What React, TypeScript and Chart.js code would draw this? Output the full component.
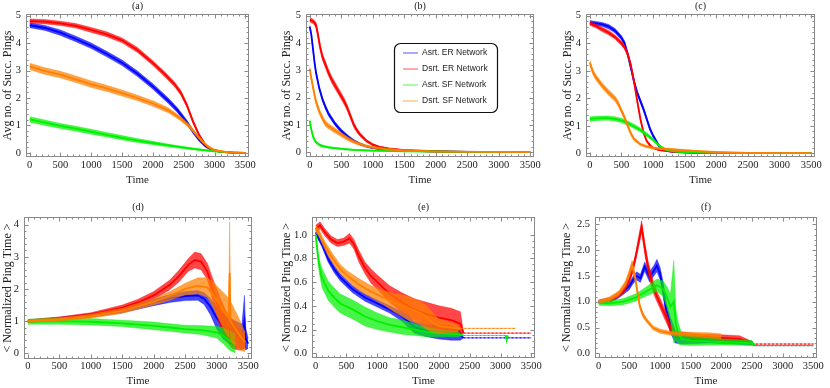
import React, { useEffect, useRef } from "react";
import { Chart, registerables } from "chart.js";
Chart.register(...registerables);

type Pt = [number, number, number]; // [time, mean value, half-width of the noise band]

const SERIES_LABELS = ["Asrt. ER Network", "Dsrt. ER Network", "Asrt. SF Network", "Dsrt. SF Network"];
const SERIES_RGB = ["0,0,255", "255,0,0", "0,240,0", "255,128,0"];

const X_TICKS = [0, 500, 1000, 1500, 2000, 2500, 3000, 3500];
const Y_TICKS_PINGS = [0, 1, 2, 3, 4, 5];
const Y_TICKS_D = [0, 1, 2, 3, 4];
const Y_TICKS_E = [0, 0.2, 0.4, 0.6, 0.8, 1.0];
const Y_TICKS_F = [0, 0.5, 1.0, 1.5, 2.0, 2.5];

// ---------- (a) ----------
const A_BLUE: Pt[] = [[0,4.65,0.09],[250,4.55,0.09],[500,4.38,0.1],[750,4.15,0.1],[1000,3.9,0.1],[1250,3.6,0.1],[1500,3.28,0.1],[1750,2.88,0.1],[2000,2.42,0.1],[2250,1.9,0.1],[2400,1.55,0.09],[2550,1.12,0.08],[2650,0.78,0.07],[2750,0.48,0.06],[2850,0.25,0.04],[2950,0.12,0.03],[3100,0.04,0.02],[3300,0.01,0.01],[3500,0,0.01]];
const A_RED: Pt[] = [[0,4.8,0.08],[250,4.78,0.08],[500,4.72,0.08],[750,4.63,0.08],[1000,4.48,0.09],[1250,4.32,0.09],[1500,4.1,0.09],[1750,3.75,0.09],[2000,3.27,0.09],[2200,2.85,0.09],[2350,2.5,0.09],[2450,2.2,0.09],[2550,1.75,0.08],[2650,1.15,0.07],[2750,0.65,0.06],[2850,0.3,0.04],[2950,0.13,0.03],[3100,0.04,0.02],[3300,0.01,0.01],[3500,0,0.01]];
const A_GREEN: Pt[] = [[0,1.22,0.1],[250,1.1,0.1],[500,0.98,0.09],[750,0.88,0.09],[1000,0.77,0.09],[1250,0.66,0.08],[1500,0.55,0.08],[1750,0.45,0.07],[2000,0.36,0.06],[2250,0.27,0.05],[2500,0.19,0.04],[2750,0.12,0.03],[3000,0.06,0.02],[3250,0.02,0.01],[3500,0,0.01]];
const A_ORANGE: Pt[] = [[0,3.15,0.12],[250,2.98,0.12],[500,2.85,0.12],[750,2.68,0.12],[1000,2.5,0.12],[1250,2.35,0.11],[1500,2.18,0.11],[1750,2.0,0.1],[2000,1.8,0.1],[2250,1.55,0.09],[2450,1.25,0.08],[2600,0.95,0.07],[2700,0.68,0.06],[2800,0.42,0.05],[2900,0.22,0.04],[3000,0.1,0.03],[3200,0.03,0.02],[3500,0,0.01]];

// ---------- (b) ----------
const B_BLUE: Pt[] = [[0,4.6,0.05],[25,4.3,0.06],[50,3.8,0.07],[75,3.3,0.07],[100,2.9,0.07],[150,2.35,0.07],[200,1.95,0.08],[250,1.65,0.08],[300,1.4,0.08],[400,1.05,0.07],[500,0.78,0.07],[600,0.58,0.06],[700,0.42,0.05],[800,0.3,0.04],[900,0.22,0.03],[1000,0.16,0.03],[1200,0.1,0.02],[1500,0.06,0.02],[2000,0.03,0.01],[3500,0.01,0.01]];
const B_RED: Pt[] = [[0,4.85,0.08],[60,4.78,0.08],[100,4.65,0.1],[130,4.3,0.12],[160,3.9,0.12],[200,3.5,0.12],[250,3.2,0.12],[300,2.9,0.12],[350,2.65,0.12],[400,2.45,0.12],[450,2.25,0.12],[500,2.05,0.12],[550,1.85,0.12],[600,1.6,0.11],[650,1.3,0.1],[700,1.0,0.09],[750,0.8,0.08],[800,0.65,0.07],[900,0.42,0.05],[1000,0.28,0.04],[1100,0.2,0.03],[1250,0.14,0.03],[1500,0.08,0.02],[2000,0.04,0.01],[2500,0.02,0.01],[3500,0.01,0.01]];
const B_GREEN: Pt[] = [[0,1.15,0.05],[15,0.95,0.06],[30,0.78,0.06],[50,0.6,0.06],[75,0.45,0.05],[100,0.37,0.05],[150,0.28,0.04],[200,0.23,0.04],[300,0.18,0.03],[500,0.13,0.03],[700,0.09,0.02],[1000,0.06,0.02],[1500,0.04,0.01],[2500,0.02,0.01],[3500,0.01,0.01]];
const B_ORANGE: Pt[] = [[0,3.05,0.08],[25,2.7,0.1],[50,2.4,0.1],[75,2.1,0.1],[100,1.85,0.1],[150,1.5,0.1],[200,1.25,0.1],[250,1.05,0.1],[300,0.95,0.1],[400,0.8,0.09],[500,0.65,0.08],[600,0.5,0.07],[700,0.38,0.06],[800,0.3,0.05],[900,0.23,0.04],[1000,0.18,0.04],[1200,0.12,0.03],[1500,0.07,0.02],[2000,0.03,0.01],[3500,0.01,0.01]];

// ---------- (c) ----------
const C_BLUE: Pt[] = [[0,4.75,0.07],[100,4.72,0.07],[200,4.68,0.07],[300,4.6,0.08],[400,4.45,0.08],[500,4.2,0.08],[550,4.0,0.08],[600,3.6,0.08],[650,3.1,0.08],[700,2.6,0.08],[750,2.2,0.08],[800,1.9,0.08],[850,1.6,0.08],[900,1.25,0.08],[950,0.9,0.07],[1000,0.65,0.06],[1050,0.45,0.05],[1100,0.25,0.04],[1200,0.1,0.03],[1350,0.05,0.02],[1600,0.03,0.01],[2000,0.02,0.01],[3500,0.01,0.01]];
const C_RED: Pt[] = [[0,4.72,0.07],[100,4.62,0.07],[200,4.5,0.08],[300,4.38,0.08],[400,4.22,0.08],[500,4.0,0.08],[550,3.85,0.08],[600,3.6,0.08],[650,3.2,0.08],[700,2.6,0.07],[750,1.9,0.06],[800,1.25,0.06],[850,0.75,0.05],[900,0.45,0.04],[950,0.3,0.04],[1000,0.2,0.03],[1100,0.12,0.02],[1300,0.07,0.02],[1600,0.03,0.01],[2000,0.02,0.01],[3500,0.01,0.01]];
const C_GREEN: Pt[] = [[0,1.25,0.08],[100,1.27,0.08],[200,1.28,0.08],[300,1.28,0.08],[400,1.25,0.08],[500,1.2,0.08],[600,1.1,0.08],[700,0.98,0.08],[800,0.85,0.07],[900,0.68,0.07],[1000,0.5,0.06],[1050,0.38,0.05],[1100,0.28,0.04],[1200,0.13,0.03],[1350,0.07,0.02],[1600,0.04,0.02],[2000,0.02,0.01],[3500,0.01,0.01]];
const C_ORANGE: Pt[] = [[0,3.3,0.1],[50,2.95,0.1],[100,2.75,0.1],[200,2.45,0.1],[300,2.2,0.1],[400,1.98,0.1],[450,1.8,0.1],[500,1.55,0.09],[550,1.3,0.09],[600,1.0,0.08],[650,0.72,0.07],[700,0.52,0.06],[800,0.33,0.05],[900,0.25,0.04],[1000,0.2,0.04],[1200,0.16,0.04],[1500,0.11,0.03],[1800,0.07,0.02],[2000,0.05,0.02],[2500,0.02,0.01],[3500,0.01,0.01]];

// ---------- (d) ----------
const D_BLUE: Pt[] = [[0,1.0,0.04],[500,1.07,0.05],[1000,1.18,0.06],[1500,1.33,0.07],[1750,1.45,0.08],[2000,1.58,0.1],[2250,1.7,0.12],[2500,1.78,0.14],[2700,1.8,0.15],[2800,1.7,0.18],[2900,1.45,0.25],[3000,1.1,0.35],[3100,0.85,0.4],[3200,0.7,0.4],[3300,0.6,0.4],[3400,0.5,0.4],[3440,1.0,0.8],[3460,0.45,0.35],[3500,0.3,0.15]];
const D_RED: Pt[] = [[0,1.0,0.04],[500,1.08,0.05],[1000,1.2,0.06],[1500,1.42,0.08],[1750,1.58,0.1],[2000,1.8,0.12],[2250,2.12,0.15],[2400,2.4,0.18],[2550,2.75,0.2],[2650,2.9,0.25],[2750,2.85,0.25],[2850,2.55,0.25],[2950,1.9,0.35],[3050,1.3,0.45],[3150,0.85,0.45],[3250,0.6,0.45],[3350,0.45,0.35],[3450,0.35,0.2]];
const D_GREEN: Pt[] = [[0,0.98,0.08],[500,1.0,0.1],[1000,0.98,0.1],[1500,0.93,0.1],[2000,0.85,0.12],[2250,0.8,0.12],[2500,0.75,0.12],[2750,0.72,0.14],[3000,0.65,0.18],[3100,0.55,0.25],[3200,0.4,0.3],[3300,0.3,0.3]];
const D_ORANGE: Pt[] = [[0,1.0,0.04],[500,1.05,0.05],[1000,1.15,0.06],[1500,1.32,0.08],[2000,1.6,0.1],[2250,1.78,0.13],[2500,2.0,0.18],[2700,2.1,0.25],[2850,2.05,0.3],[2950,1.8,0.4],[3050,1.5,0.5],[3150,1.2,0.6],[3190,1.1,0.6],[3205,2.5,1.6],[3220,1.0,0.6],[3250,0.9,0.6],[3350,0.6,0.5],[3450,0.35,0.3]];

// ---------- (e) ----------
const E_BLUE: Pt[] = [[0,1.02,0.02],[50,0.97,0.02],[100,0.92,0.02],[200,0.8,0.03],[300,0.71,0.03],[400,0.64,0.03],[500,0.59,0.03],[600,0.54,0.03],[800,0.47,0.03],[1000,0.42,0.03],[1200,0.37,0.03],[1400,0.31,0.04],[1500,0.27,0.05],[1600,0.22,0.05],[1800,0.19,0.05],[2000,0.18,0.06],[2200,0.17,0.06],[2350,0.15,0.04],[2400,0.13,0],[3500,0.13,0]];
const E_RED: Pt[] = [[0,1.05,0.03],[70,1.08,0.03],[150,1.02,0.03],[250,0.96,0.03],[350,0.93,0.03],[450,0.94,0.03],[550,0.97,0.04],[620,0.92,0.04],[700,0.82,0.05],[800,0.72,0.05],[900,0.65,0.06],[1000,0.6,0.06],[1200,0.5,0.07],[1400,0.43,0.08],[1600,0.37,0.09],[1800,0.33,0.1],[2000,0.3,0.1],[2200,0.28,0.1],[2350,0.25,0.1],[2400,0.17,0],[3500,0.17,0]];
const E_GREEN: Pt[] = [[0,1.0,0.02],[30,0.85,0.04],[60,0.73,0.06],[100,0.64,0.08],[200,0.53,0.08],[300,0.47,0.08],[400,0.42,0.08],[600,0.37,0.08],[800,0.31,0.08],[1000,0.27,0.07],[1200,0.24,0.06],[1400,0.22,0.06],[1600,0.2,0.05],[1800,0.18,0.04],[2000,0.17,0.03],[2300,0.16,0.02],[2400,0.15,0],[3080,0.15,0],[3100,0.115,0.035],[3120,0.15,0]];
const E_ORANGE: Pt[] = [[0,1.05,0.03],[50,1.02,0.03],[100,0.96,0.03],[200,0.86,0.04],[300,0.78,0.04],[400,0.71,0.04],[500,0.66,0.04],[700,0.58,0.05],[900,0.52,0.05],[1100,0.47,0.06],[1300,0.42,0.08],[1500,0.38,0.1],[1700,0.34,0.1],[1800,0.3,0.1],[1900,0.26,0.08],[2000,0.23,0.06],[2300,0.21,0.03],[2350,0.21,0],[3250,0.21,0]];

// ---------- (f) ----------
const F_BLUE: Pt[] = [[0,1.0,0.03],[200,1.04,0.04],[300,1.1,0.05],[400,1.2,0.06],[500,1.3,0.07],[560,1.42,0.07],[620,1.5,0.08],[680,1.45,0.08],[750,1.68,0.09],[830,1.48,0.1],[900,1.6,0.1],[950,1.7,0.12],[1000,1.55,0.12],[1050,1.25,0.14],[1100,0.85,0.15],[1170,0.55,0.15],[1250,0.32,0.12],[1350,0.28,0.1],[1800,0.26,0.06],[2200,0.23,0.05],[2500,0.2,0.04],[2550,0.15,0],[3500,0.15,0]];
const F_RED: Pt[] = [[0,1.0,0.03],[200,1.04,0.04],[400,1.2,0.05],[500,1.42,0.06],[550,1.6,0.07],[600,1.85,0.08],[650,2.15,0.1],[700,2.45,0.12],[750,2.05,0.12],[800,1.7,0.12],[850,1.45,0.12],[900,1.25,0.11],[950,1.1,0.1],[1000,0.97,0.1],[1100,0.7,0.1],[1170,0.5,0.08],[1250,0.37,0.06],[1600,0.33,0.05],[2000,0.3,0.06],[2300,0.28,0.06],[2450,0.22,0.04],[2500,0.18,0],[3500,0.18,0]];
const F_GREEN: Pt[] = [[0,0.97,0.04],[200,0.97,0.05],[400,1.0,0.06],[600,1.08,0.07],[720,1.16,0.08],[850,1.25,0.1],[950,1.32,0.12],[1050,1.25,0.15],[1110,1.1,0.2],[1170,0.9,0.25],[1225,1.0,0.8],[1260,0.55,0.3],[1300,0.38,0.2],[1350,0.28,0.12],[1500,0.25,0.1],[2000,0.22,0.06],[2500,0.2,0.05],[2550,0.15,0],[3500,0.15,0]];
const F_ORANGE: Pt[] = [[0,1.0,0.03],[170,1.05,0.04],[330,1.16,0.05],[440,1.35,0.06],[500,1.55,0.07],[545,1.72,0.08],[590,1.5,0.07],[630,1.2,0.06],[670,0.92,0.05],[720,0.75,0.05],[780,0.64,0.04],[890,0.49,0.04],[1000,0.43,0.04],[1170,0.39,0.04],[1500,0.37,0.04],[1800,0.35,0.05],[2000,0.33,0.05]];

const SERIF = "'Liberation Serif', 'Times New Roman', serif";
const SANS = "'Liberation Sans', Arial, sans-serif";

interface PanelCfg {
  label: string; left: number; top: number; w: number; h: number;
  box: [number, number, number, number]; // left, right, top, bottom (relative to canvas)
  yMin: number; yMax: number; yTicks: number[]; yMinor: number; yDec: number;
  yTitle: string; yTitlePad: number; xTickPad: number; xTitlePad: number; labelOff: number;
  series: Pt[][]; legend?: boolean;
}

const PANELS: PanelCfg[] = [
  { label: "(a)", left: 0, top: 0, w: 280, h: 194, box: [26, 249, 14, 157], yMin: -0.15, yMax: 5.06, yTicks: Y_TICKS_PINGS, yMinor: 0.2, yDec: 0, yTitle: "Avg no. of Succ. Pings", yTitlePad: 0.8, xTickPad: 1.7, xTitlePad: 7.4, labelOff: 7.3, series: [A_BLUE, A_RED, A_GREEN, A_ORANGE] },
  { label: "(b)", left: 280, top: 0, w: 270, h: 194, box: [26, 254, 14, 157], yMin: -0.17, yMax: 5.06, yTicks: Y_TICKS_PINGS, yMinor: 0.2, yDec: 0, yTitle: "Avg no. of Succ. Pings", yTitlePad: 0, xTickPad: 1.7, xTitlePad: 7.4, labelOff: 7.3, series: [B_BLUE, B_RED, B_GREEN, B_ORANGE], legend: true },
  { label: "(c)", left: 550, top: 0, w: 280, h: 194, box: [36, 265, 14, 157], yMin: -0.13, yMax: 5.06, yTicks: Y_TICKS_PINGS, yMinor: 0.2, yDec: 0, yTitle: "Avg no. of Succ. Pings", yTitlePad: 10.8, xTickPad: 1.7, xTitlePad: 7.4, labelOff: 7.3, series: [C_BLUE, C_RED, C_GREEN, C_ORANGE] },
  { label: "(d)", left: 0, top: 194, w: 280, h: 194, box: [24, 252, 23, 165], yMin: -0.18, yMax: 4.24, yTicks: Y_TICKS_D, yMinor: 0.2, yDec: 0, yTitle: "< Normalized Ping Time >", yTitlePad: 0.8, xTickPad: 0.7, xTitlePad: 0.7, labelOff: 9.4, series: [D_BLUE, D_RED, D_GREEN, D_ORANGE] },
  { label: "(e)", left: 280, top: 194, w: 270, h: 194, box: [32, 255, 23, 164], yMin: -0.04, yMax: 1.15, yTicks: Y_TICKS_E, yMinor: 0.05, yDec: 1, yTitle: "< Normalized Ping Time >", yTitlePad: 0, xTickPad: 1.7, xTitlePad: 0.7, labelOff: 9.4, series: [E_BLUE, E_RED, E_GREEN, E_ORANGE] },
  { label: "(f)", left: 550, top: 194, w: 280, h: 194, box: [45, 267, 23, 164], yMin: -0.09, yMax: 2.64, yTicks: Y_TICKS_F, yMinor: 0.1, yDec: 1, yTitle: "< Normalized Ping Time >", yTitlePad: 9.8, xTickPad: 1.7, xTitlePad: 0.7, labelOff: 9.4, series: [F_BLUE, F_RED, F_GREEN, F_ORANGE] },
];

const X_MIN = -60;
const X_MAX = 3560;

function buildDatasets(series: Pt[][]) {
  const ds: any[] = [];
  series.forEach((pts, k) => {
    const rgb = SERIES_RGB[k];
    const base = (series.length - 1 - k) * 3;
    ds.push({
      label: SERIES_LABELS[k] + " hi",
      data: pts.map((p) => ({ x: p[0], y: p[1] + p[2] })),
      borderColor: `rgba(${rgb},0.35)`, borderWidth: 1, pointRadius: 0, fill: false, order: base + 2,
    });
    ds.push({
      label: SERIES_LABELS[k] + " lo",
      data: pts.map((p) => ({ x: p[0], y: p[1] - p[2] })),
      borderColor: `rgba(${rgb},0.35)`, borderWidth: 1, pointRadius: 0,
      fill: "-1", backgroundColor: `rgba(${rgb},0.72)`, order: base + 1,
    });
    ds.push({
      label: SERIES_LABELS[k],
      data: pts.map((p) => ({ x: p[0], y: p[1] })),
      borderColor: `rgb(${rgb})`, borderWidth: 1.8, pointRadius: 0, fill: false, order: base,
      segment: {
        borderDash: (c: any) => (pts[c.p0DataIndex][2] === 0 && pts[c.p1DataIndex][2] === 0 ? [2, 2] : undefined),
        borderWidth: (c: any) => (pts[c.p0DataIndex][2] === 0 && pts[c.p1DataIndex][2] === 0 ? 1 : undefined),
      },
    });
  });
  return ds;
}

function makeFramePlugin(cfg: PanelCfg) {
  return {
    id: "frame" + cfg.label.replace(/[()]/g, ""),
    afterDatasetsDraw(chart: any) {
      const { ctx, chartArea: a, scales } = chart;
      const xs = scales.x, ys = scales.y;
      const L = Math.round(a.left) + 0.5, R = Math.round(a.right) - 0.5;
      const T = Math.round(a.top) + 0.5, B = Math.round(a.bottom) - 0.5;
      ctx.save();
      ctx.strokeStyle = "#8a8a8a";
      ctx.lineWidth = 1;
      ctx.strokeRect(L, T, R - L, B - T);
      ctx.beginPath();
      for (let v = 0; v <= 3500 + 1e-6; v += 100) {
        const px = Math.round(xs.getPixelForValue(v)) + 0.5;
        const len = X_TICKS.includes(v) ? 4 : 2;
        ctx.moveTo(px, B); ctx.lineTo(px, B - len);
        ctx.moveTo(px, T); ctx.lineTo(px, T + len);
      }
      const y0 = cfg.yTicks[0];
      const yEnd = cfg.yTicks[cfg.yTicks.length - 1];
      const n = Math.round((yEnd - y0) / cfg.yMinor);
      for (let i = 0; i <= n; i++) {
        const v = y0 + i * cfg.yMinor;
        const isMajor = cfg.yTicks.some((t) => Math.abs(t - v) < 1e-6);
        const py = Math.round(ys.getPixelForValue(v)) + 0.5;
        const len = isMajor ? 4 : 2;
        ctx.moveTo(L, py); ctx.lineTo(L + len, py);
        ctx.moveTo(R, py); ctx.lineTo(R - len, py);
      }
      ctx.stroke();
      ctx.fillStyle = "#222";
      ctx.font = `10px ${SERIF}`;
      ctx.textAlign = "center";
      ctx.textBaseline = "middle";
      ctx.fillText(cfg.label, (a.left + a.right) / 2, a.top - cfg.labelOff);
      ctx.restore();
    },
  };
}

const legendPlugin = {
  id: "insideLegend",
  afterDraw(chart: any) {
    const ctx = chart.ctx;
    const x0 = 114.5, y0 = 43.5, w = 103, h = 69, r = 6;
    ctx.save();
    ctx.beginPath();
    ctx.moveTo(x0 + r, y0);
    ctx.arcTo(x0 + w, y0, x0 + w, y0 + h, r);
    ctx.arcTo(x0 + w, y0 + h, x0, y0 + h, r);
    ctx.arcTo(x0, y0 + h, x0, y0, r);
    ctx.arcTo(x0, y0, x0 + w, y0, r);
    ctx.closePath();
    ctx.fillStyle = "#fff";
    ctx.fill();
    ctx.strokeStyle = "#111";
    ctx.lineWidth = 1.2;
    ctx.stroke();
    ctx.font = `8.5px ${SANS}`;
    ctx.textBaseline = "middle";
    ctx.textAlign = "left";
    SERIES_LABELS.forEach((lab, k) => {
      const y = 53 + k * 16;
      ctx.strokeStyle = `rgba(${SERIES_RGB[k]},0.45)`;
      ctx.lineWidth = 1.5;
      ctx.beginPath();
      ctx.moveTo(123, y); ctx.lineTo(138, y);
      ctx.stroke();
      ctx.fillStyle = "#222";
      ctx.fillText(lab, 142, y);
    });
    ctx.restore();
  },
};

function Panel({ cfg }: { cfg: PanelCfg }) {
  const ref = useRef<HTMLCanvasElement>(null);
  useEffect(() => {
    const [bl, br, bt, bb] = cfg.box;
    const plugins: any[] = [makeFramePlugin(cfg)];
    if (cfg.legend) plugins.push(legendPlugin);
    const chart = new Chart(ref.current as HTMLCanvasElement, {
      type: "line",
      data: { datasets: buildDatasets(cfg.series) },
      options: {
        animation: false,
        responsive: false,
        events: [],
        parsing: false as any,
        normalized: true,
        layout: { padding: { left: 0, top: bt, right: cfg.w - br, bottom: 0 } },
        plugins: { legend: { display: false }, tooltip: { enabled: false }, title: { display: false } },
        scales: {
          x: {
            type: "linear", min: X_MIN, max: X_MAX, bounds: "data",
            afterBuildTicks: (s: any) => { s.ticks = X_TICKS.map((v) => ({ value: v })); },
            afterFit: (s: any) => { s.height = cfg.h - bb; },
            grid: { display: false, drawTicks: false },
            border: { display: false },
            ticks: { autoSkip: false, maxRotation: 0, minRotation: 0, padding: cfg.xTickPad, color: "#222", font: { family: SERIF, size: 10.5 }, callback: (v: any) => String(v) },
            title: { display: true, text: "Time", color: "#222", font: { family: SERIF, size: 11 }, padding: { top: 0, bottom: cfg.xTitlePad } },
          },
          y: {
            type: "linear", min: cfg.yMin, max: cfg.yMax, bounds: "data",
            afterBuildTicks: (s: any) => { s.ticks = cfg.yTicks.map((v) => ({ value: v })); },
            afterFit: (s: any) => { s.width = bl; },
            grid: { display: false, drawTicks: false },
            border: { display: false },
            ticks: { autoSkip: false, padding: 5, color: "#222", font: { family: SERIF, size: 10.5 }, callback: (v: any) => Number(v).toFixed(cfg.yDec) },
            title: { display: true, text: cfg.yTitle, color: "#222", font: { family: SERIF, size: 12 }, padding: { top: cfg.yTitlePad, bottom: 0 } },
          },
        },
      } as any,
      plugins,
    });
    return () => chart.destroy();
  }, [cfg]);
  return (
    <div style={{ position: "absolute", left: cfg.left, top: cfg.top, width: cfg.w, height: cfg.h }}>
      <canvas ref={ref} width={cfg.w} height={cfg.h} style={{ display: "block", width: cfg.w, height: cfg.h }} />
    </div>
  );
}

export default function App() {
  useEffect(() => {
    document.body.style.margin = "0";
    document.body.style.background = "#fff";
  }, []);
  return (
    <div style={{ position: "relative", width: 830, height: 388, background: "#fff", overflow: "hidden" }}>
      {PANELS.map((p) => (
        <Panel key={p.label} cfg={p} />
      ))}
    </div>
  );
}
